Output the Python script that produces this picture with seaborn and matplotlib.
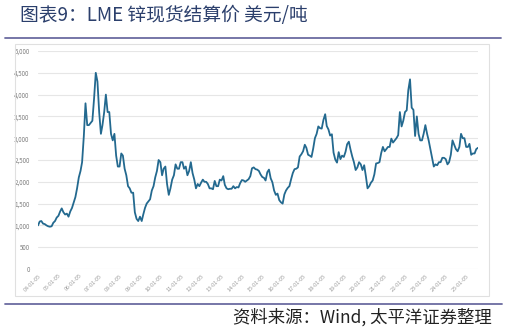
import matplotlib
matplotlib.use("Agg")
import matplotlib.pyplot as plt
import matplotlib.ticker as mticker
import matplotlib.dates as mdates
from matplotlib.lines import Line2D
from matplotlib.patches import Rectangle
import seaborn as sns
import pandas as pd

title = "图表9：LME 锌现货结算价 美元/吨"
source = "资料来源：Wind, 太平洋证券整理"

start_month = "2004-01-01"
zinc_price = [
    # 2004
    1000, 1090, 1100, 1040, 1030, 1000, 980, 970, 980, 1060, 1100, 1180,
    # 2005
    1220, 1320, 1390, 1300, 1250, 1270, 1200, 1320, 1400, 1520, 1650, 1850,
    # 2006
    2100, 2250, 2450, 3050, 3800, 3300, 3300, 3350, 3400, 3900, 4500, 4300,
    # 2007
    3600, 3100, 3300, 3600, 4000, 3600, 3600, 3100, 2950, 3100, 2600, 2350,
    # 2008
    2350, 2650, 2600, 2300, 2150, 1900, 1850, 1750, 1750, 1300, 1150, 1100,
    # 2009
    1200, 1100, 1250, 1400, 1500, 1550, 1600, 1800, 1900, 2100, 2250, 2500,
    # 2010
    2450, 2150, 2300, 2350, 1950, 1700, 1850, 2050, 2150, 2400, 2300, 2300,
    # 2011
    2450, 2450, 2300, 2350, 2150, 2250, 2450, 2200, 2050, 1850, 1950, 1900,
    # 2012
    1980, 2050, 2000, 2000, 1950, 1850, 1850, 1830, 2020, 1900, 1900, 2050,
    # 2013
    2030, 2130, 1930, 1850, 1830, 1840, 1840, 1900, 1850, 1880, 1870, 1970,
    # 2014
    2040, 2030, 2000, 2030, 2060, 2130, 2310, 2330, 2290, 2280, 2250, 2170,
    # 2015
    2110, 2090, 2030, 2220, 2280, 2080, 1990, 1800, 1700, 1730, 1580, 1530,
    # 2016
    1500, 1710, 1800, 1860, 1900, 2060, 2200, 2290, 2300, 2330, 2580, 2630,
    # 2017
    2700, 2850, 2780, 2620, 2600, 2570, 2760, 3000, 3100, 3270, 3230, 3220,
    # 2018
    3420, 3550, 3280, 3200, 3060, 3090, 2670, 2510, 2440, 2680, 2520, 2600,
    # 2019
    2570, 2690, 2860, 2920, 2740, 2580, 2450, 2270, 2330, 2450, 2400, 2270,
    # 2020
    2380, 2120, 1850, 1900, 1980, 2030, 2170, 2420, 2430, 2450, 2660, 2800,
    # 2021
    2700, 2750, 2800, 2800, 2990, 2900, 2950, 3000, 3070, 3600, 3270, 3400,
    # 2022
    3600, 3640, 4100, 4350, 3700, 3650, 3050, 3500, 3100, 2950, 2950, 3100,
    # 2023
    3300, 3100, 2950, 2750, 2550, 2350, 2400, 2380, 2450, 2450, 2550, 2550,
    # 2024
    2520, 2400, 2450, 2620, 2950, 2850, 2750, 2700, 2800, 3100, 3000, 3000,
    # 2025
    2800, 2800, 2870, 2620, 2650, 2650, 2750, 2780,
]
tick_years = list(range(2004, 2026))
y_ticks = list(range(0, 5001, 500))

dates = pd.date_range(start_month, periods=len(zinc_price), freq="MS")
df = pd.DataFrame({"date": dates, "price": zinc_price})

sns.set_theme(style="white")
plt.rcParams["font.family"] = ["Noto Sans CJK SC", "DejaVu Sans"]

W, H = 507, 331
fig = plt.figure(figsize=(W / 100, H / 100), dpi=100)
ax = fig.add_axes([38 / W, 1 - 269 / H, (478 - 38) / W, (269 - 51) / H])

sns.lineplot(data=df, x="date", y="price", ax=ax, color="#23698f", linewidth=1.3)

ax.set_ylim(0, 5000)
ax.set_xlim(dates[0], dates[-1])
ax.set_yticks(y_ticks)
ax.yaxis.set_major_formatter(mticker.FuncFormatter(lambda v, p: f"{int(v):,}"))
ax.set_xticks([pd.Timestamp(f"{y}-01-05") for y in tick_years])
ax.xaxis.set_major_formatter(mdates.DateFormatter("%y-%m-%d"))
ax.grid(axis="y", color="#e6e6e6", linewidth=0.8)
ax.set_axisbelow(True)
for s in ax.spines.values():
    s.set_visible(False)
ax.tick_params(axis="y", labelsize=4.5, colors="#7f7f7f", length=0, pad=6)
ax.tick_params(axis="x", labelsize=4, colors="#9a9a9a", length=0, pad=3)
for lab in ax.get_xticklabels():
    lab.set_rotation(45)
    lab.set_ha("right")
    lab.set_rotation_mode("anchor")
ax.set_xlabel("")
ax.set_ylabel("")

# frame box
fig.patches.append(Rectangle((15 / W, 1 - 296 / H), (489 - 15) / W, (296 - 44) / H,
                             transform=fig.transFigure, fill=False,
                             edgecolor="#e0e0e0", linewidth=0.8))

# title & rules
fig.text(20 / W, 1 - 15 / H, title, fontsize=13.5, color="#2b3f6c",
         ha="left", va="center", fontweight="medium")
fig.add_artist(Line2D([5 / W, 501 / W], [1 - 37.5 / H, 1 - 37.5 / H],
                      transform=fig.transFigure, color="#6b6ba0", linewidth=1.3))
fig.add_artist(Line2D([5 / W, 502 / W], [1 - 304 / H, 1 - 304 / H],
                      transform=fig.transFigure, color="#6b6ba0", linewidth=1.3))
fig.text(492 / W, 1 - 317 / H, source, fontsize=12.5, color="#222222",
         ha="right", va="center", style="italic")

fig.savefig("out.png", dpi=100)
